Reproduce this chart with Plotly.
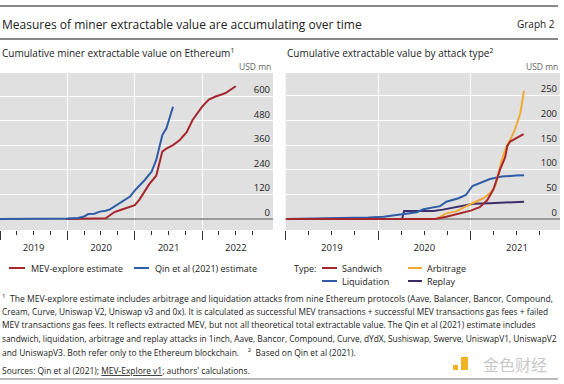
import plotly.graph_objects as go

# ---------------- data ----------------
# Left panel: cumulative MEV on Ethereum, USD mn
mev_dates = ["2019-12-24", "2020-04-20", "2020-07-27", "2020-08-19", "2020-09-13", "2020-10-19",
             "2020-11-25", "2021-01-01", "2021-01-26", "2021-02-24", "2021-03-21", "2021-04-27",
             "2021-05-30", "2021-06-21", "2021-07-27", "2021-09-02", "2021-10-09", "2021-11-10",
             "2022-01-01", "2022-02-06", "2022-03-15", "2022-04-24", "2022-05-12", "2022-07-02"]
mev_values = [0, 1, 3, 18, 34, 45, 58, 68, 95, 140, 172, 212, 330, 345, 362, 387, 425, 485,
              550, 585, 600, 612, 619, 650]

qin_dates = ["2019-01-01", "2019-07-01", "2020-01-01", "2020-02-28", "2020-04-01", "2020-04-23",
             "2020-05-27", "2020-06-25", "2020-07-27", "2020-08-19", "2020-09-24", "2020-11-06",
             "2020-12-06", "2021-01-01", "2021-01-26", "2021-02-24", "2021-04-02", "2021-04-27",
             "2021-05-30", "2021-06-21", "2021-07-27"]
qin_values = [0, 0.5, 2, 5, 12, 24, 26, 36, 40, 47, 69, 93, 110, 140, 162, 191, 232, 289, 411, 444, 550]

# Right panel: cumulative extractable value by attack type, USD mn
sandwich_dates = ["2019-01-01", "2020-08-14", "2020-09-27", "2020-11-06", "2021-01-01", "2021-02-06",
                  "2021-03-07", "2021-04-01", "2021-04-27", "2021-05-17", "2021-05-26", "2021-06-06",
                  "2021-06-28", "2021-07-29"]
sandwich_values = [0, 0, 4.7, 10, 17, 24, 38, 60, 100, 125, 148, 157, 163, 172]

arbitrage_dates = ["2019-01-01", "2020-08-18", "2020-09-27", "2020-11-06", "2021-01-08", "2021-02-20",
                   "2021-03-18", "2021-04-09", "2021-05-04", "2021-05-22", "2021-06-06", "2021-06-24",
                   "2021-07-16", "2021-07-31"]
arbitrage_values = [0, 0, 11.5, 16, 32, 42, 52, 68, 120, 146, 160, 180, 214, 260]

liquidation_dates = ["2019-01-01", "2019-07-02", "2019-11-24", "2020-01-23", "2020-04-05", "2020-04-20",
                     "2020-06-02", "2020-06-28", "2020-09-02", "2020-09-27", "2020-11-14", "2020-12-13",
                     "2021-01-08", "2021-03-18", "2021-05-04", "2021-06-28", "2021-07-31"]
liquidation_values = [0, 1, 3, 4.7, 9.5, 10, 13.5, 19.6, 26, 35, 42, 48.6, 67, 81, 86, 88, 88.5]

replay_dates = ["2019-01-01", "2020-04-05", "2020-04-13", "2020-08-07", "2020-09-13", "2020-11-06",
                "2021-01-12", "2021-03-18", "2021-05-26", "2021-07-31"]
replay_values = [0, 0, 16, 16, 19, 25, 31, 32, 34, 35]

left_ticks = [0, 120, 240, 360, 480, 600]
right_ticks = [0, 50, 100, 150, 200, 250]

# ---------------- styling ----------------
W, H = 564, 384
RED = "#a6262d"
BLUE = "#2e5ca6"
ORANGE = "#f2a934"
PURPLE = "#3c2c6c"
BG = "#e0e0e0"
FONT = "Open Sans"


def fx(x):
    return x / W


def fy(y):
    return 1 - y / H


fig = go.Figure()


def add_line(x, y, color, xa, ya):
    fig.add_trace(go.Scatter(x=x, y=y, mode="lines", line=dict(color=color, width=2),
                             xaxis=xa, yaxis=ya, showlegend=False, hoverinfo="skip"))


add_line(mev_dates, mev_values, RED, "x", "y")
add_line(qin_dates, qin_values, BLUE, "x", "y")
add_line(replay_dates, replay_values, PURPLE, "x2", "y2")
add_line(liquidation_dates, liquidation_values, BLUE, "x2", "y2")
add_line(arbitrage_dates, arbitrage_values, ORANGE, "x2", "y2")
add_line(sandwich_dates, sandwich_values, RED, "x2", "y2")

xcommon = dict(type="date", dtick="M12", tick0="2019-01-01", ticklabelmode="period",
               tickformat="%Y", ticks="outside", ticklen=9, tickwidth=1, tickcolor="#333",
               showgrid=True, gridcolor="white", gridwidth=1, showline=False, zeroline=False,
               tickfont=dict(size=9.5, color="#222", family=FONT),
               minor=dict(dtick="M3", tick0="2019-01-01", ticks="outside", ticklen=4,
                          tickwidth=1, tickcolor="#333", showgrid=False),
               fixedrange=True)
ycommon = dict(side="right", ticklabelposition="inside top", showgrid=True, gridcolor="white",
               gridwidth=1, zeroline=True, zerolinecolor="#9a9a9a", zerolinewidth=2,
               ticks="", showline=False, tickfont=dict(size=9.5, color="#222", family=FONT),
               fixedrange=True)

ydom = [fy(230), fy(73)]
fig.update_layout(
    width=W, height=H, autosize=False,
    margin=dict(l=0, r=0, t=0, b=0),
    paper_bgcolor="white", plot_bgcolor=BG,
    font=dict(family=FONT, color="#222"),
    xaxis=dict(xcommon, domain=[fx(0), fx(273)], range=["2019-01-01", "2023-01-20"], anchor="y"),
    yaxis=dict(ycommon, domain=ydom, range=[-54, 715], tickvals=left_ticks, anchor="x"),
    xaxis2=dict(xcommon, domain=[fx(285.7), fx(560)], range=["2019-01-01", "2021-12-20"], anchor="y2"),
    yaxis2=dict(ycommon, domain=ydom, range=[-22.3, 296], tickvals=right_ticks, anchor="x2"),
)

shapes = []
annotations = []


def hline(y, x0, x1, color, width):
    shapes.append(dict(type="line", xref="paper", yref="paper", x0=fx(x0), x1=fx(x1),
                       y0=fy(y), y1=fy(y), line=dict(color=color, width=width)))


def text(x, y, s, size, color="#222", anchor="left"):
    annotations.append(dict(xref="paper", yref="paper", x=fx(x), y=fy(y), text=s,
                            showarrow=False, xanchor=anchor, yanchor="middle",
                            font=dict(size=size, color=color, family=FONT)))


# rules
hline(6, 0, 558, "#111", 1.2)
hline(39, 0, 558, "#111", 1)
hline(379, 0, 558, "#777", 1)

# titles
text(0, 24, "Measures of miner extractable value are accumulating over time", 12)
text(557, 24, "Graph 2", 10, anchor="right")
text(0, 53, "Cumulative miner extractable value on Ethereum<sup>1</sup>", 10)
text(285, 53, "Cumulative extractable value by attack type<sup>2</sup>", 10)
text(273, 66, "USD mn", 8.5, "#666", "right")
text(560, 66, "USD mn", 8.5, "#666", "right")

# legends (manual)
def swatch(x0, x1, y, color):
    shapes.append(dict(type="line", xref="paper", yref="paper", x0=fx(x0), x1=fx(x1),
                       y0=fy(y), y1=fy(y), line=dict(color=color, width=2)))


swatch(9, 25, 268, RED)
text(29, 268, "MEV-explore estimate", 9)
swatch(134, 149, 268, BLUE)
text(153, 268, "Qin et al (2021) estimate", 9)

text(318, 268, "Type:", 9, anchor="right")
swatch(322, 337, 268, RED)
text(340, 268, "Sandwich", 9)
swatch(408, 422, 268, ORANGE)
text(425, 268, "Arbitrage", 9)
swatch(322, 337, 281, BLUE)
text(340, 281, "Liquidation", 9)
swatch(408, 422, 281, PURPLE)
text(425, 281, "Replay", 9)

# footnotes (sizes tuned per line to mimic the justified block)
foot = [
    ("<sup>1</sup>  The MEV-explore estimate includes arbitrage and liquidation attacks from nine Ethereum protocols (Aave, Balancer, Bancor, Compound,", 8.6),
    ("Cream, Curve, Uniswap V2, Uniswap v3 and 0x). It is calculated as successful MEV transactions + successful MEV transactions gas fees + failed", 8.36),
    ("MEV transactions gas fees. It reflects extracted MEV, but not all theoretical total extractable value. The Qin et al (2021) estimate includes", 8.48),
    ("sandwich, liquidation, arbitrage and replay attacks in 1inch, Aave, Bancor, Compound, Curve, dYdX, Sushiswap, Swerve, UniswapV1, UniswapV2", 8.36),
    ("and UniswapV3. Both refer only to the Ethereum blockchain.    <sup>2</sup>  Based on Qin et al (2021).", 8.45),
]
for i, (line, sz) in enumerate(foot):
    text(0, 298 + i * 13.4, line, sz)
text(0, 370, "Sources: Qin et al (2021); <u>MEV-Explore v1</u>; authors' calculations.", 8.45)

# watermark
shapes.append(dict(type="rect", xref="paper", yref="paper", x0=fx(461), x1=fx(468),
                   y0=fy(370), y1=fy(357), fillcolor="#f0b323", line=dict(width=0)))
shapes.append(dict(type="rect", xref="paper", yref="paper", x0=fx(453), x1=fx(458),
                   y0=fy(370), y1=fy(365), fillcolor="#f0b323", line=dict(width=0)))
annotations.append(dict(xref="paper", yref="paper", x=fx(515), y=fy(364), text="金色财经",
                        showarrow=False, xanchor="center", yanchor="middle",
                        font=dict(size=16, color="#c9c9c9", family="Noto Sans CJK SC")))

fig.update_layout(shapes=shapes, annotations=annotations)

fig.write_html("out.html", config={"displayModeBar": False, "staticPlot": True},
               post_script="document.body.style.margin='0';")
